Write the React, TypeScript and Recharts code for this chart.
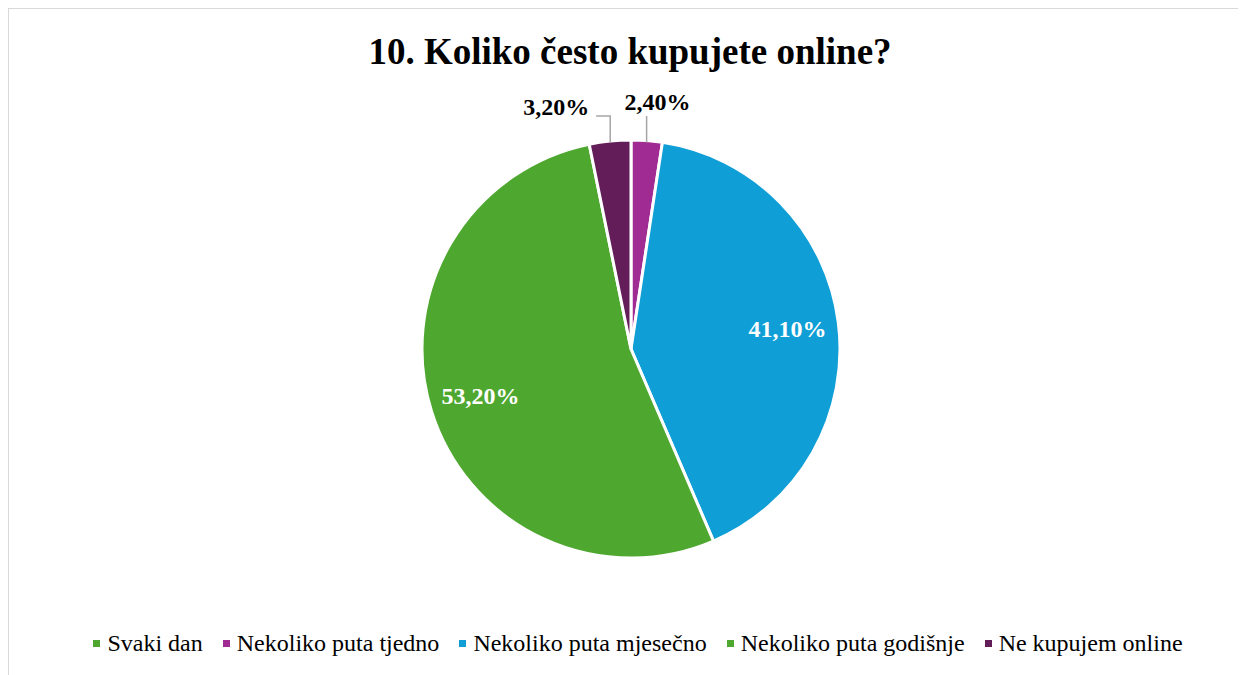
import React from "react";
import { PieChart, Pie, Cell, Legend } from "recharts";

const categories = [
  "Svaki dan",
  "Nekoliko puta tjedno",
  "Nekoliko puta mjesečno",
  "Nekoliko puta godišnje",
  "Ne kupujem online",
];
const values = [0, 2.4, 41.1, 53.2, 3.2];
const valueLabels = ["0,00%", "2,40%", "41,10%", "53,20%", "3,20%"];
const colors = ["#4EA72E", "#A02B93", "#0F9ED5", "#4EA72E", "#631E5A"];
const title = "10. Koliko često kupujete online?";

const data = categories.map((name, i) => ({ name, value: values[i], label: valueLabels[i] }));

const W = 1238;
const H = 667;
const CX = 622;
const CY = 340;
const R = 209;
const RAD = Math.PI / 180;
const FONT = '"Liberation Serif", "Times New Roman", serif';

const renderLabel = (props: any) => {
  const { cx, cy, midAngle, outerRadius, index } = props;
  const v = values[index];
  if (!v) return null;
  const txt = valueLabels[index];
  if (v >= 10) {
    const r = outerRadius * 0.755;
    const x = cx + r * Math.cos(-midAngle * RAD);
    const y = cy + r * Math.sin(-midAngle * RAD);
    return (
      <text x={x} y={y} fill="#ffffff" style={{ fontFamily: FONT }} fontWeight="bold" fontSize={24} textAnchor="middle" dominantBaseline="central">
        {txt}
      </text>
    );
  }
  const ex = cx + (outerRadius - 2) * Math.cos(-midAngle * RAD);
  const ey = cy + (outerRadius - 2) * Math.sin(-midAngle * RAD);
  const topY = cy - outerRadius - 24;
  const left = Math.cos(-midAngle * RAD) < 0;
  if (!left) {
    return (
      <g>
        <polyline points={`${ex},${ey} ${ex},${topY}`} fill="none" stroke="#a6a6a6" strokeWidth={1.5} />
        <text x={ex + 11} y={topY - 14} fill="#000" style={{ fontFamily: FONT }} fontWeight="bold" fontSize={24} textAnchor="middle" dominantBaseline="central">
          {txt}
        </text>
      </g>
    );
  }
  return (
    <g>
      <polyline points={`${ex},${ey} ${ex},${topY} ${ex - 14},${topY}`} fill="none" stroke="#a6a6a6" strokeWidth={1.5} />
      <text x={ex - 21} y={topY - 9} fill="#000" style={{ fontFamily: FONT }} fontWeight="bold" fontSize={24} textAnchor="end" dominantBaseline="central">
        {txt}
      </text>
    </g>
  );
};

const renderLegend = () => (
  <div style={{ display: "flex", justifyContent: "center", alignItems: "center", fontFamily: FONT, fontSize: 24, color: "#000", gap: 20, lineHeight: "28px", transform: "translateX(10px)" }}>
    {categories.map((c, i) => (
      <div key={c} style={{ display: "flex", alignItems: "center" }}>
        <span style={{ display: "inline-block", width: 7, height: 7, background: colors[i], marginRight: 7 }} />
        <span>{c}</span>
      </div>
    ))}
  </div>
);

export default function App() {
  return (
    <div style={{ position: "relative", width: W, height: 700, border: "1px solid #d9d9d9", background: "#fff", fontFamily: FONT }}>
      <div style={{ position: "absolute", left: 2, top: 23, width: W, textAlign: "center", fontFamily: FONT, fontWeight: "bold", fontSize: 37, color: "#000", lineHeight: "40px" }}>
        {title}
      </div>
      <PieChart width={W} height={H} margin={{ top: 0, right: 0, bottom: 0, left: 0 }}>
        <Pie
          data={data}
          dataKey="value"
          nameKey="name"
          cx={CX}
          cy={CY}
          outerRadius={R}
          startAngle={90}
          endAngle={-270}
          stroke="#ffffff"
          strokeWidth={3}
          label={renderLabel}
          labelLine={false}
          isAnimationActive={false}
        >
          {data.map((d, i) => (
            <Cell key={d.name} fill={colors[i]} />
          ))}
        </Pie>
        <Legend content={renderLegend} verticalAlign="bottom" wrapperStyle={{ bottom: 19 }} />
      </PieChart>
    </div>
  );
}
